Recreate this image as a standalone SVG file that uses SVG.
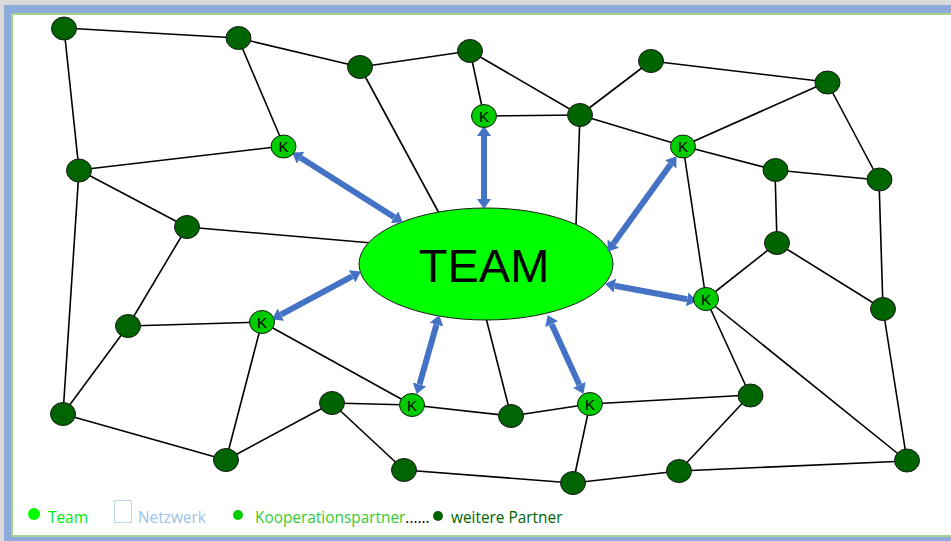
<svg xmlns="http://www.w3.org/2000/svg" width="951" height="541" viewBox="0 0 951 541">
  <style>
    .edge { stroke: #000; stroke-width: 1.6; fill: none; }
    .link { stroke: #4472c4; stroke-width: 6; fill: none; marker-start: url(#head); marker-end: url(#head); }
    .partner { fill: #006400; stroke: #1a1a1a; stroke-width: 1; }
    .koop { fill: #00cc00; stroke: #1a1a1a; stroke-width: 1; }
    .k { font-family: "Liberation Sans", Arial, sans-serif; font-size: 15px; fill: #000; text-anchor: middle; }
    .legend { font-family: "Open Sans", "Liberation Sans", sans-serif; font-size: 15.4px; }
  </style>
  <defs>
    <marker id="head" markerUnits="userSpaceOnUse" markerWidth="11" markerHeight="14" refX="0" refY="7" orient="auto-start-reverse" viewBox="0 0 11 14">
      <path d="M0,0 L10,7 L0,14 Z" fill="#4472c4"/>
    </marker>
  </defs>

  <!-- frame -->
  <rect x="0" y="0" width="951" height="541" fill="#d9d9d9"/>
  <rect x="4" y="5" width="947" height="536" fill="#8eaadb"/>
  <rect x="11" y="13" width="940" height="524" fill="#a9d18e"/>
  <rect x="13" y="15" width="938" height="520" fill="#ffffff"/>

  <!-- connectors -->
  <g id="edges">
    <line class="edge" x1="64" y1="28" x2="238" y2="38"/>
    <line class="edge" x1="64" y1="28" x2="79" y2="170"/>
    <line class="edge" x1="238" y1="38" x2="360" y2="67"/>
    <line class="edge" x1="238" y1="38" x2="284" y2="146"/>
    <line class="edge" x1="360" y1="67" x2="470" y2="51"/>
    <line class="edge" x1="360" y1="67" x2="440" y2="215"/>
    <line class="edge" x1="470" y1="51" x2="484" y2="116"/>
    <line class="edge" x1="470" y1="51" x2="580" y2="115"/>
    <line class="edge" x1="484" y1="116" x2="580" y2="115"/>
    <line class="edge" x1="580" y1="115" x2="651" y2="61"/>
    <line class="edge" x1="580" y1="115" x2="576" y2="225"/>
    <line class="edge" x1="580" y1="115" x2="683" y2="146"/>
    <line class="edge" x1="651" y1="61" x2="827" y2="82"/>
    <line class="edge" x1="827" y1="82" x2="683" y2="146"/>
    <line class="edge" x1="827" y1="82" x2="879" y2="180"/>
    <line class="edge" x1="683" y1="146" x2="775" y2="170"/>
    <line class="edge" x1="683" y1="146" x2="706" y2="299"/>
    <line class="edge" x1="775" y1="170" x2="879" y2="180"/>
    <line class="edge" x1="775" y1="170" x2="777" y2="243"/>
    <line class="edge" x1="879" y1="180" x2="883" y2="309"/>
    <line class="edge" x1="777" y1="243" x2="706" y2="299"/>
    <line class="edge" x1="777" y1="243" x2="883" y2="309"/>
    <line class="edge" x1="883" y1="309" x2="907" y2="461"/>
    <line class="edge" x1="706" y1="299" x2="907" y2="461"/>
    <line class="edge" x1="706" y1="299" x2="750" y2="395"/>
    <line class="edge" x1="750" y1="395" x2="590" y2="404"/>
    <line class="edge" x1="750" y1="395" x2="679" y2="471"/>
    <line class="edge" x1="679" y1="471" x2="907" y2="461"/>
    <line class="edge" x1="573" y1="483" x2="679" y2="471"/>
    <line class="edge" x1="573" y1="483" x2="590" y2="404"/>
    <line class="edge" x1="573" y1="483" x2="404" y2="470"/>
    <line class="edge" x1="404" y1="470" x2="332" y2="403"/>
    <line class="edge" x1="332" y1="403" x2="412" y2="405"/>
    <line class="edge" x1="332" y1="403" x2="226" y2="460"/>
    <line class="edge" x1="226" y1="460" x2="262" y2="322"/>
    <line class="edge" x1="226" y1="460" x2="63" y2="414"/>
    <line class="edge" x1="63" y1="414" x2="79" y2="170"/>
    <line class="edge" x1="63" y1="414" x2="128" y2="326"/>
    <line class="edge" x1="128" y1="326" x2="187" y2="227"/>
    <line class="edge" x1="128" y1="326" x2="262" y2="322"/>
    <line class="edge" x1="187" y1="227" x2="79" y2="170"/>
    <line class="edge" x1="187" y1="227" x2="372" y2="243"/>
    <line class="edge" x1="79" y1="170" x2="284" y2="146"/>
    <line class="edge" x1="262" y1="322" x2="412" y2="405"/>
    <line class="edge" x1="412" y1="405" x2="511" y2="416"/>
    <line class="edge" x1="511" y1="416" x2="590" y2="404"/>
    <line class="edge" x1="511" y1="416" x2="486" y2="318"/>
  </g>

  <!-- core team -->
  <g id="team">
    <ellipse cx="486" cy="264" rx="127" ry="56" fill="#00ff00" stroke="#1a1a1a" stroke-width="1"/>
    <text x="484" y="282" font-family="Liberation Sans, Arial, sans-serif" font-size="47" text-anchor="middle" fill="#000">TEAM</text>
  </g>

  <!-- links between team and cooperation partners -->
  <g id="links">
    <line class="link" x1="300.6" y1="157.8" x2="394.4" y2="217.2"/>
    <line class="link" x1="484" y1="136" x2="484" y2="199"/>
    <line class="link" x1="670.7" y1="164.3" x2="613.3" y2="243.7"/>
    <line class="link" x1="280.9" y1="314.7" x2="352.1" y2="276.3"/>
    <line class="link" x1="614.8" y1="285.7" x2="687.2" y2="299.3"/>
    <line class="link" x1="419.5" y1="384.4" x2="436.5" y2="324.6"/>
    <line class="link" x1="551.7" y1="324.2" x2="579.3" y2="384.8"/>
  </g>

  <!-- further partners -->
  <g id="p1"><ellipse class="partner" cx="64" cy="28.5" rx="12.5" ry="11.5"/></g>
  <g id="p2"><ellipse class="partner" cx="238.5" cy="38" rx="12.5" ry="11.5"/></g>
  <g id="p3"><ellipse class="partner" cx="360" cy="67" rx="12.5" ry="11.5"/></g>
  <g id="p4"><ellipse class="partner" cx="470" cy="51" rx="12.5" ry="11.5"/></g>
  <g id="p5"><ellipse class="partner" cx="580" cy="115" rx="12.5" ry="11.5"/></g>
  <g id="p6"><ellipse class="partner" cx="651" cy="61" rx="12.5" ry="11.5"/></g>
  <g id="p7"><ellipse class="partner" cx="827.5" cy="82.5" rx="12.5" ry="11.5"/></g>
  <g id="p8"><ellipse class="partner" cx="79" cy="170.5" rx="12.5" ry="11.5"/></g>
  <g id="p9"><ellipse class="partner" cx="187" cy="227" rx="12.5" ry="11.5"/></g>
  <g id="p10"><ellipse class="partner" cx="775.5" cy="170" rx="12.5" ry="11.5"/></g>
  <g id="p11"><ellipse class="partner" cx="879.5" cy="179.5" rx="12.5" ry="11.5"/></g>
  <g id="p12"><ellipse class="partner" cx="777" cy="243" rx="12.5" ry="11.5"/></g>
  <g id="p13"><ellipse class="partner" cx="883" cy="309" rx="12.5" ry="11.5"/></g>
  <g id="p14"><ellipse class="partner" cx="128" cy="326" rx="12.5" ry="11.5"/></g>
  <g id="p15"><ellipse class="partner" cx="63" cy="414" rx="12.5" ry="11.5"/></g>
  <g id="p16"><ellipse class="partner" cx="226" cy="460" rx="12.5" ry="11.5"/></g>
  <g id="p17"><ellipse class="partner" cx="332" cy="403" rx="12.5" ry="11.5"/></g>
  <g id="p18"><ellipse class="partner" cx="511" cy="416" rx="12.5" ry="11.5"/></g>
  <g id="p19"><ellipse class="partner" cx="750.5" cy="395.5" rx="12.5" ry="11.5"/></g>
  <g id="p20"><ellipse class="partner" cx="404" cy="470" rx="12.5" ry="11.5"/></g>
  <g id="p21"><ellipse class="partner" cx="573" cy="483" rx="12.5" ry="11.5"/></g>
  <g id="p22"><ellipse class="partner" cx="679" cy="471" rx="12.5" ry="11.5"/></g>
  <g id="p23"><ellipse class="partner" cx="907" cy="460.5" rx="12.5" ry="11.5"/></g>

  <!-- cooperation partners -->
  <g id="k1"><ellipse class="koop" cx="283.5" cy="146.5" rx="12.5" ry="11.5"/><text class="k" x="283.5" y="152">K</text></g>
  <g id="k2"><ellipse class="koop" cx="484" cy="116" rx="12.5" ry="11.5"/><text class="k" x="484" y="121.5">K</text></g>
  <g id="k3"><ellipse class="koop" cx="683" cy="146.5" rx="12.5" ry="11.5"/><text class="k" x="683" y="152">K</text></g>
  <g id="k4"><ellipse class="koop" cx="262" cy="322" rx="12.5" ry="11.5"/><text class="k" x="262" y="327.5">K</text></g>
  <g id="k5"><ellipse class="koop" cx="412" cy="405" rx="12.5" ry="11.5"/><text class="k" x="412" y="410.5">K</text></g>
  <g id="k6"><ellipse class="koop" cx="590" cy="404" rx="12.5" ry="11.5"/><text class="k" x="590" y="409.5">K</text></g>
  <g id="k7"><ellipse class="koop" cx="706" cy="299" rx="12.5" ry="11.5"/><text class="k" x="706" y="304.5">K</text></g>

  <!-- legend -->
  <g id="legend">
    <circle cx="34" cy="514" r="6" fill="#00ff00"/>
    <text class="legend" x="48" y="523" fill="#00ee00">Team</text>
    <rect x="114.5" y="500.5" width="17" height="22" fill="none" stroke="#bdd7ee" stroke-width="1"/>
    <text class="legend" x="138" y="523" fill="#9dc3e6">Netzwerk</text>
    <circle cx="238" cy="515" r="5" fill="#00cc00"/>
    <text class="legend" x="255" y="523"><tspan fill="#33cc33">Kooperationspartner</tspan><tspan fill="#000">......</tspan></text>
    <circle cx="438" cy="516" r="5" fill="#006400"/>
    <text class="legend" x="451" y="523" fill="#006400">weitere Partner</text>
  </g>
</svg>
